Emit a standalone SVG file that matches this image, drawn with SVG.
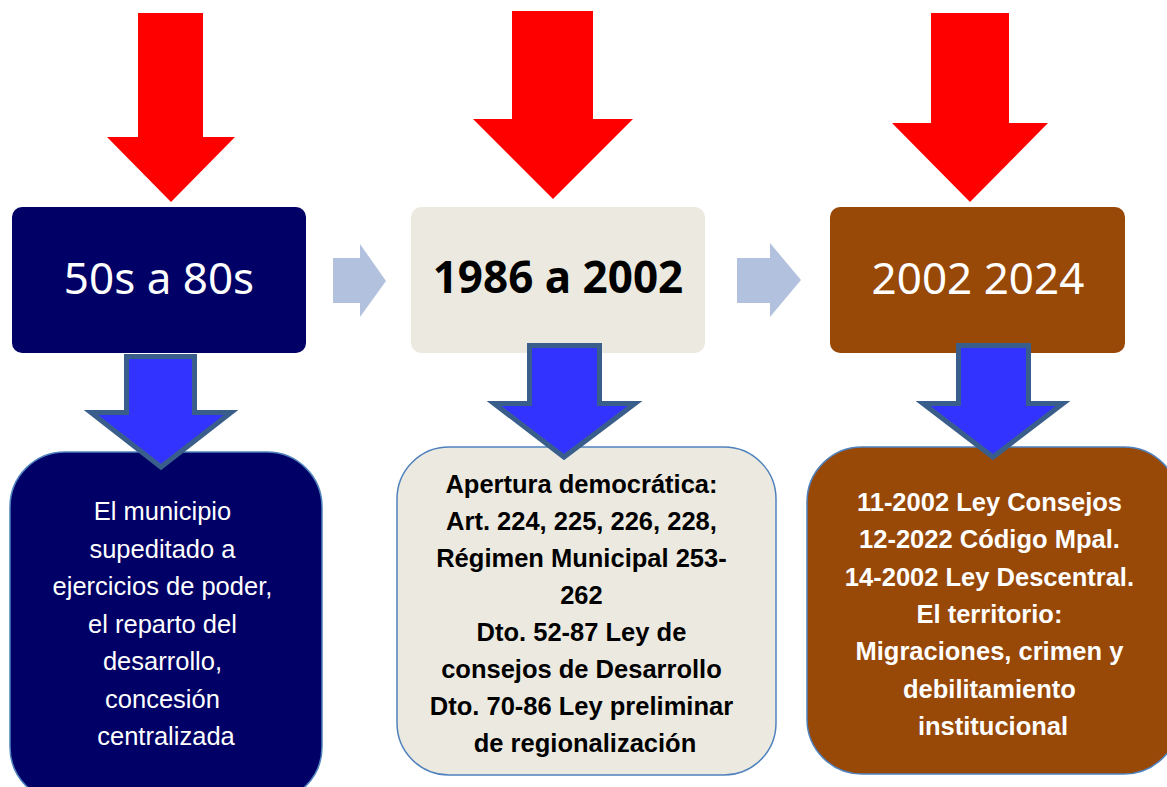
<svg xmlns="http://www.w3.org/2000/svg" width="1167" height="787" viewBox="0 0 1167 787">
<style>
.red{fill:#FF0000}
.lb{fill:#B2C2DE}
.blue{fill:#3333FF;stroke:#3A5E8C;stroke-width:5;stroke-linejoin:miter}
.title{font-family:"Noto Sans","Open Sans",sans-serif;font-size:44px;text-anchor:middle}
.body{font-family:"Liberation Sans",Arial,sans-serif;font-size:25.5px;text-anchor:middle}
.bold{font-weight:bold}
.bx{stroke:#4F81BD;stroke-width:1.5}
</style>
<rect width="1167" height="787" fill="#FFFFFF"/>
<g id="bottom1">
<rect class="bx" x="10" y="452" width="312" height="350" rx="55" fill="#000066"/>
<text class="body" fill="#FFFFFF">
<tspan x="166" y="520">El municipio</tspan>
<tspan x="166" y="557.5">supeditado a</tspan>
<tspan x="166" y="595">ejercicios de poder,</tspan>
<tspan x="166" y="632.5">el reparto del</tspan>
<tspan x="166" y="670">desarrollo,</tspan>
<tspan x="166" y="707.5">concesión</tspan>
<tspan x="166" y="745">centralizada</tspan>
</text>
</g>
<g id="bottom2">
<rect class="bx" x="397" y="447" width="379" height="328" rx="52" fill="#ECEAE0"/>
<text class="body bold" fill="#000000">
<tspan x="585" y="493">Apertura democrática:</tspan>
<tspan x="585" y="530">Art. 224, 225, 226, 228,</tspan>
<tspan x="585" y="567">Régimen Municipal 253-</tspan>
<tspan x="585" y="604">262</tspan>
<tspan x="585" y="641">Dto. 52-87 Ley de</tspan>
<tspan x="585" y="678">consejos de Desarrollo</tspan>
<tspan x="585" y="715">Dto. 70-86 Ley preliminar</tspan>
<tspan x="585" y="752">de regionalización</tspan>
</text>
</g>
<g id="bottom3">
<rect class="bx" x="807" y="447" width="372" height="327" rx="55" fill="#984807"/>
<text class="body bold" fill="#FFFFFF">
<tspan x="993" y="511">11-2002 Ley Consejos</tspan>
<tspan x="993" y="548">12-2022 Código Mpal.</tspan>
<tspan x="993" y="586">14-2002 Ley Descentral.</tspan>
<tspan x="993" y="623">El territorio:</tspan>
<tspan x="993" y="660">Migraciones, crimen y</tspan>
<tspan x="993" y="698">debilitamiento</tspan>
<tspan x="993" y="735">institucional</tspan>
</text>
</g>
<g id="top1">
<rect x="12" y="207" width="294" height="146" rx="10" fill="#000066"/>
<text class="title" x="159" y="294" fill="#FFFFFF">50s a 80s</text>
</g>
<g id="top2">
<rect x="411" y="207" width="294" height="146" rx="10" fill="#ECEAE0"/>
<text class="title bold" x="558" y="293" fill="#000000">1986 a 2002</text>
</g>
<g id="top3">
<rect x="830" y="207" width="295" height="146" rx="10" fill="#984807"/>
<text class="title" x="978" y="294" fill="#FFFFFF">2002 2024</text>
</g>
<g id="connectors">
<polygon class="red" points="138,13 203,13 203,137 235,137 171,202 107,137 138,137"/>
<polygon class="red" points="512,11 593,11 593,119 633,119 553,199 473,119 512,119"/>
<polygon class="red" points="931,13 1009,13 1009,123 1048,123 970,202 892,123 931,123"/>
<polygon class="lb" points="333,258 360,258 360,244 386,281 360,317 360,303 333,303"/>
<polygon class="lb" points="737,258 770,258 770,243 801,280 770,317 770,303 737,303"/>
<polygon class="blue" points="126.5,356.5 194.5,356.5 194.5,412.5 231,412.5 161,467 91,412.5 126.5,412.5"/>
<polygon class="blue" points="529.5,345.5 599.5,345.5 599.5,403.5 635,403.5 564,457 494,403.5 529.5,403.5"/>
<polygon class="blue" points="958.5,345.5 1028.5,345.5 1028.5,403.5 1063,403.5 993,457 923,403.5 958.5,403.5"/>
</g>
</svg>
